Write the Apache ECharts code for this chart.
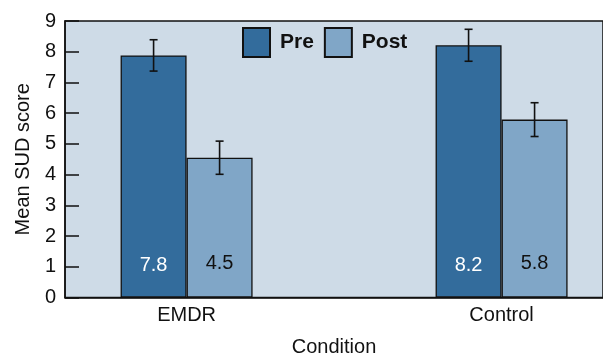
<!DOCTYPE html>
<html>
<head>
<meta charset="utf-8">
<script src="https://cdn.jsdelivr.net/npm/echarts@6/dist/echarts.min.js"></script>
<style>
  html, body { margin: 0; padding: 0; background: #fff; }
  #chart { width: 603px; height: 353px; }
</style>
</head>
<body>
<div id="chart"></div>
<script>
// data
const conditions = ['EMDR', 'Control']
const conditionPos = [1, 2]
const preMeans = [7.88, 8.21]
const postMeans = [4.55, 5.79]
const preErr = [0.51, 0.52]
const postErr = [0.54, 0.55]
const preLabels = ['7.8', '8.2']
const postLabels = ['4.5', '5.8']
const yTicks = [0, 1, 2, 3, 4, 5, 6, 7, 8, 9]

const BAR_W = 66
const FONT = 'Liberation Sans, Arial, sans-serif'

const chart = echarts.init(document.getElementById('chart'))

// error bar drawn at the bar centre, shifted by half a bar width
const errorBar = (shift) => (params, api) => {
    const x = api.value(0)
    const m = api.value(1)
    const e = api.value(2)
    const hi = api.coord([x, m + e])
    const lo = api.coord([x, m - e])
    const cx = hi[0] + shift
    const cap = 4
    const style = { stroke: '#111', lineWidth: 1.6 }
    return {
        type: 'group',
        children: [
            { type: 'line', shape: { x1: cx, y1: hi[1], x2: cx, y2: lo[1] }, style },
            { type: 'line', shape: { x1: cx - cap, y1: hi[1], x2: cx + cap, y2: hi[1] }, style },
            { type: 'line', shape: { x1: cx - cap, y1: lo[1], x2: cx + cap, y2: lo[1] }, style }
        ]
    }
}

chart.setOption({
    animation: false,
    textStyle: { fontFamily: FONT },
    grid: {
        left: 65,
        right: 0,
        top: 21,
        bottom: 55.5,
        outerBoundsMode: 'none',
        containLabel: false,
        show: true,
        backgroundColor: '#cedbe7',
        borderColor: '#111',
        borderWidth: 1.5
    },
    legend: {
        data: ['Pre', 'Post'],
        left: 237,
        top: 22,
        icon: 'rect',
        itemWidth: 27,
        itemHeight: 29,
        itemGap: 10,
        textStyle: { fontFamily: FONT, fontWeight: 'bold', fontSize: 21, color: '#111', padding: [0, 0, 0, 5] }
    },
    xAxis: {
        type: 'value',
        min: 0.614,
        max: 2.322,
        name: 'Condition',
        nameLocation: 'middle',
        nameGap: 40,
        nameTextStyle: { fontFamily: FONT, fontSize: 20, color: '#111' },
        axisLine: { show: true, lineStyle: { color: '#111', width: 1.5 } },
        axisTick: { show: false },
        splitLine: { show: false },
        axisLabel: {
            customValues: conditionPos,
            formatter: (v) => conditions[conditionPos.indexOf(Math.round(v))] || '',
            fontFamily: FONT,
            fontSize: 20,
            color: '#111',
            margin: 8
        }
    },
    yAxis: {
        type: 'value',
        min: 0,
        max: 9,
        interval: 1,
        name: 'Mean SUD score',
        nameLocation: 'middle',
        nameGap: 32,
        nameTextStyle: { fontFamily: FONT, fontSize: 20, color: '#111' },
        axisLine: { show: true, lineStyle: { color: '#111', width: 1.5 } },
        axisTick: { show: true, inside: true, length: 14, lineStyle: { color: '#111', width: 1.5 } },
        splitLine: { show: false },
        axisLabel: {
            formatter: (v) => yTicks.includes(v) ? String(v) : '',
            fontFamily: FONT,
            fontSize: 20,
            color: '#111',
            margin: 9
        }
    },
    series: [
        {
            name: 'Pre',
            type: 'bar',
            barWidth: BAR_W,
            barGap: '0%',
            data: conditionPos.map((x, i) => [x, preMeans[i]]),
            itemStyle: { color: '#336c9c', borderColor: '#111', borderWidth: 1.3 },
            label: {
                show: true,
                position: 'insideBottom',
                distance: 22,
                formatter: (p) => preLabels[p.dataIndex],
                fontFamily: FONT,
                fontSize: 20,
                color: '#fff'
            }
        },
        {
            name: 'Post',
            type: 'bar',
            barWidth: BAR_W,
            barGap: '0%',
            data: conditionPos.map((x, i) => [x, postMeans[i]]),
            itemStyle: { color: '#80a6c7', borderColor: '#111', borderWidth: 1.3 },
            label: {
                show: true,
                position: 'insideBottom',
                distance: 24,
                formatter: (p) => postLabels[p.dataIndex],
                fontFamily: FONT,
                fontSize: 20,
                color: '#111'
            }
        },
        {
            type: 'custom',
            renderItem: errorBar(-BAR_W / 2),
            data: conditionPos.map((x, i) => [x, preMeans[i], preErr[i]]),
            z: 10
        },
        {
            type: 'custom',
            renderItem: errorBar(BAR_W / 2),
            data: conditionPos.map((x, i) => [x, postMeans[i], postErr[i]]),
            z: 10
        }
    ]
})
</script>
</body>
</html>
